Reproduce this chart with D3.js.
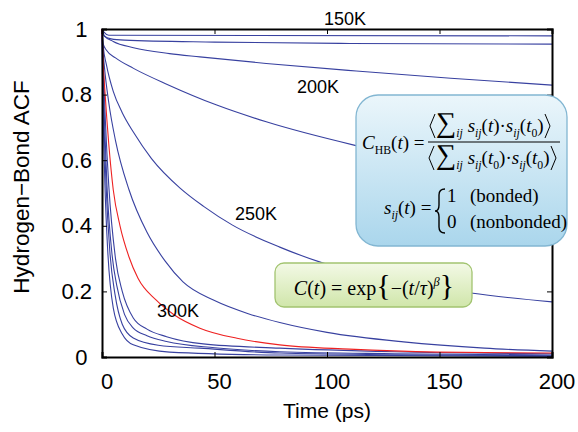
<!DOCTYPE html>
<html>
<head>
<meta charset="utf-8">
<script src="https://cdn.jsdelivr.net/npm/d3@7"></script>
<style>
  body { margin: 0; background: #fff; }
  svg { display: block; }
</style>
</head>
<body>
<script>
// Hydrogen-bond autocorrelation curves, one per temperature
const t150 = [0, 1, 3, 200];
const v150 = [1, 0.99, 0.981, 0.979];
const t175 = [0, 1, 4, 10, 50, 110, 200];
const v175 = [1, 0.978, 0.97, 0.966, 0.96, 0.956, 0.954];
const t200 = [0, 1, 5, 14, 30, 43.5, 73, 113, 155, 200];
const v200 = [1, 0.98, 0.962, 0.943, 0.925, 0.915, 0.895, 0.872, 0.85, 0.829];
const t225 = [0, 0.5, 2, 6, 14, 29, 51, 73, 112, 150, 200];
const v225 = [1, 0.955, 0.935, 0.912, 0.88, 0.831, 0.768, 0.717, 0.646, 0.59, 0.53];
const t250 = [0, 0.5, 2, 5, 9, 14, 22, 34.7, 45, 58, 79, 98, 130, 164, 200];
const v250 = [1, 0.95, 0.89, 0.81, 0.745, 0.685, 0.605, 0.515, 0.46, 0.402, 0.335, 0.287, 0.235, 0.195, 0.168];
const t275 = [0, 0.3, 1, 3, 6, 12, 20, 28, 36, 50, 65, 79, 100, 134, 170, 200];
const v275 = [1, 0.95, 0.89, 0.776, 0.66, 0.51, 0.38, 0.293, 0.229, 0.172, 0.132, 0.105, 0.075, 0.046, 0.027, 0.018];
const t300 = [0, 0.5, 1.3, 3, 5, 8, 12, 16, 24, 32, 43.5, 60, 79, 110, 149, 200];
const v300 = [1, 0.9, 0.81, 0.65, 0.51, 0.4, 0.305, 0.24, 0.174, 0.129, 0.088, 0.057, 0.037, 0.024, 0.015, 0.012];
const t325 = [0, 0.5, 1.5, 3, 6, 9, 13.9, 20, 28.7, 45, 79, 130, 200];
const v325 = [1, 0.9, 0.72, 0.524, 0.3, 0.2, 0.119, 0.085, 0.062, 0.04, 0.027, 0.016, 0.01];
const t350 = [0, 0.4, 1.2, 2.2, 4.5, 6.5, 10, 13.9, 20, 28.7, 50, 79, 130, 200];
const v350 = [1, 0.88, 0.7, 0.524, 0.31, 0.22, 0.13, 0.088, 0.065, 0.047, 0.028, 0.016, 0.01, 0.006];
const t375 = [0, 0.3, 1, 1.8, 3.5, 5.8, 9, 13.9, 25, 43.5, 79, 130, 200];
const v375 = [1, 0.87, 0.68, 0.524, 0.32, 0.19, 0.1, 0.058, 0.036, 0.027, 0.012, 0.007, 0.004];
const t400 = [0, 0.2, 0.7, 1.3, 2.5, 5, 9, 13.9, 30, 79, 200];
const v400 = [1, 0.86, 0.68, 0.524, 0.33, 0.15, 0.07, 0.037, 0.015, 0.006, 0.002];

const temperatures = ["150K", "175K", "200K", "225K", "250K", "275K", "300K", "325K", "350K", "375K", "400K"];
const timeSets = [t150, t175, t200, t225, t250, t275, t300, t325, t350, t375, t400];
const valueSets = [v150, v175, v200, v225, v250, v275, v300, v325, v350, v375, v400];
const labelled = ["150K", "200K", "250K", "300K"];

const xTicks = [0, 50, 100, 150, 200];
const yTicks = [0, 0.2, 0.4, 0.6, 0.8, 1];

const width = 578, height = 432;
const margin = { top: 29, right: 26, bottom: 75, left: 102 };
const blue = "#3841a0", red = "#ee2222";

const svg = d3.select("body").append("svg")
  .attr("width", width).attr("height", height);

const x = d3.scaleLinear().domain([0, 200]).range([margin.left, width - margin.right]);
const y = d3.scaleLinear().domain([0, 1]).range([height - margin.bottom, margin.top]);

const curves = temperatures.map((name, i) => ({
  name,
  points: timeSets[i].map((t, j) => [t, valueSets[i][j]])
}));

const line = d3.line()
  .x(d => x(d[0])).y(d => y(d[1]))
  .curve(d3.curveMonotoneX);

// blue first, red (300K) on top
const order = curves.filter(c => c.name !== "300K").concat(curves.filter(c => c.name === "300K"));
svg.append("g").selectAll("path")
  .data(order)
  .join("path")
  .attr("d", d => line(d.points))
  .attr("fill", "none")
  .attr("stroke", d => d.name === "300K" ? red : blue)
  .attr("stroke-width", 1.1);

// frame with inward ticks on all four sides
const tickFmt = d => d === 0 ? "0" : d === 1 ? "1" : d3.format("~g")(d);
const axisFont = "Liberation Sans, Arial, sans-serif";

const gx = svg.append("g")
  .attr("transform", `translate(0,${y(0)})`)
  .call(d3.axisBottom(x).tickValues(xTicks).tickSize(-5).tickPadding(12).tickFormat(d3.format("d")));
gx.selectAll("text").attr("dx", 4.5).attr("dy", "0.9em");
svg.append("g")
  .attr("transform", `translate(0,${y(1)})`)
  .call(d3.axisTop(x).tickValues(xTicks).tickSize(-5).tickFormat(""));
const gy = svg.append("g")
  .attr("transform", `translate(${x(0)},0)`)
  .call(d3.axisLeft(y).tickValues(yTicks).tickSize(-5).tickPadding(10).tickFormat(tickFmt));
svg.append("g")
  .attr("transform", `translate(${x(200)},0)`)
  .call(d3.axisRight(y).tickValues(yTicks).tickSize(-5).tickFormat(""));

svg.selectAll(".domain").attr("stroke", "#000").attr("stroke-width", 2);
svg.selectAll(".tick line").attr("stroke", "#000").attr("stroke-width", 1);
svg.selectAll(".tick text").attr("font-family", axisFont).attr("font-size", 22).attr("fill", "#000");
gy.selectAll(".tick text").filter(d => d === 0 || d === 1).attr("dx", -4.5);

svg.append("text")
  .attr("x", 327).attr("y", 418)
  .attr("text-anchor", "middle")
  .attr("font-family", axisFont).attr("font-size", 21)
  .text("Time (ps)");

svg.append("text")
  .attr("transform", "translate(29,187) rotate(-90)")
  .attr("text-anchor", "middle")
  .attr("font-family", axisFont).attr("font-size", 22.5)
  .text("Hydrogen\u2212Bond ACF");

// temperature labels
const labelPos = { "150K": [345, 25, "middle"], "200K": [297, 93, "start"], "250K": [235, 220, "start"], "300K": [157, 317, "start"] };
svg.append("g").selectAll("text")
  .data(labelled)
  .join("text")
  .attr("x", d => labelPos[d][0]).attr("y", d => labelPos[d][1])
  .attr("text-anchor", d => labelPos[d][2])
  .attr("font-family", axisFont).attr("font-size", 18)
  .text(d => d);

// ---- formula boxes ----
const defs = svg.append("defs");
function grad(id, c0, c1) {
  const g = defs.append("linearGradient").attr("id", id).attr("x1", 0).attr("y1", 0).attr("x2", 0).attr("y2", 1);
  g.append("stop").attr("offset", "0%").attr("stop-color", c0);
  g.append("stop").attr("offset", "100%").attr("stop-color", c1);
}
grad("gBlue", "#ebf6fb", "#aad6ec");
grad("gGreen", "#f3f9e6", "#d0e6aa");

svg.append("rect")
  .attr("x", 356).attr("y", 95).attr("width", 211).attr("height", 151).attr("rx", 22)
  .attr("fill", "url(#gBlue)").attr("stroke", "#82b6d2").attr("stroke-width", 1.3);
svg.append("rect")
  .attr("x", 275).attr("y", 263).attr("width", 197).attr("height", 44).attr("rx", 9)
  .attr("fill", "url(#gGreen)").attr("stroke", "#a2c470").attr("stroke-width", 1.3);

const serif = "Liberation Serif, Times New Roman, serif";
// parts: [text, kind]; kinds: i italic, r roman, sub italic subscript, subr roman subscript, sup, big
function math(x0, y0, parts, size, anchor, bigScale) {
  const t = svg.append("text")
    .attr("x", x0).attr("y", y0)
    .attr("text-anchor", anchor || "start")
    .attr("font-family", serif).attr("font-size", size)
    .attr("xml:space", "preserve");
  let shift = 0;
  parts.forEach(([s, k]) => {
    const want = (k === "sub" || k === "subr") ? size * 0.28 : k === "sup" ? -size * 0.45 : 0;
    const sp = t.append("tspan").text(s).attr("dy", want - shift);
    shift = want;
    if (k === "i" || k === "sub" || k === "sup") sp.attr("font-style", "italic");
    if (k === "sub" || k === "subr" || k === "sup") sp.attr("font-size", size * 0.62);
    if (k === "big") sp.attr("font-size", size * (bigScale || 1.4));
  });
  return t;
}
function stroke(sel, w) { return sel.attr("stroke", "#000").attr("fill", "none").attr("stroke-width", w); }

math(362, 149, [["C", "i"], ["HB", "subr"], ["(", "r"], ["t", "i"], [") =", "r"]], 19);
stroke(svg.append("line").attr("x1", 428).attr("x2", 560).attr("y1", 142).attr("y2", 142), 1);

const angle = (xl, xr, top, bot) => {
  const mid = (top + bot) / 2;
  stroke(svg.append("path").attr("d", `M${xl + 5},${top}L${xl},${mid}L${xl + 5},${bot}`), 1);
  stroke(svg.append("path").attr("d", `M${xr - 5},${top}L${xr},${mid}L${xr - 5},${bot}`), 1);
};
angle(430, 550, 114, 138);
angle(429, 556, 146, 170);
math(436, 132, [["\u2211", "big"], ["ij", "sub"], [" s", "i"], ["ij", "sub"], ["(", "r"], ["t", "i"], [")\u00b7", "r"], ["s", "i"], ["ij", "sub"], ["(", "r"], ["t", "i"], ["0", "subr"], [")", "r"]], 19, "start", 1.5);
math(436, 164, [["\u2211", "big"], ["ij", "sub"], [" s", "i"], ["ij", "sub"], ["(", "r"], ["t", "i"], ["0", "subr"], [")\u00b7", "r"], ["s", "i"], ["ij", "sub"], ["(", "r"], ["t", "i"], ["0", "subr"], [")", "r"]], 19, "start", 1.5);

math(384, 214, [["s", "i"], ["ij", "sub"], ["(", "r"], ["t", "i"], [") =", "r"]], 19);
stroke(svg.append("path").attr("d",
  "M445,189 Q439,189 439,195 L439,205 Q439,211 435,211 Q439,211 439,217 L439,227 Q439,233 445,233"), 1.4);
math(447, 202, [["1", "r"]], 19);
math(470, 202, [["(bonded)", "r"]], 19);
math(447, 228, [["0", "r"]], 19);
math(470, 228, [["(nonbonded)", "r"]], 19);

math(374, 295, [["C", "i"], ["(", "r"], ["t", "i"], [") = exp", "r"], ["{", "big"], ["\u2212", "r"], ["(", "r"], ["t", "i"], ["/", "r"], ["\u03c4", "i"], [")", "r"], ["\u03b2", "sup"], ["}", "big"]], 20, "middle", 1.5);
</script>
</body>
</html>
